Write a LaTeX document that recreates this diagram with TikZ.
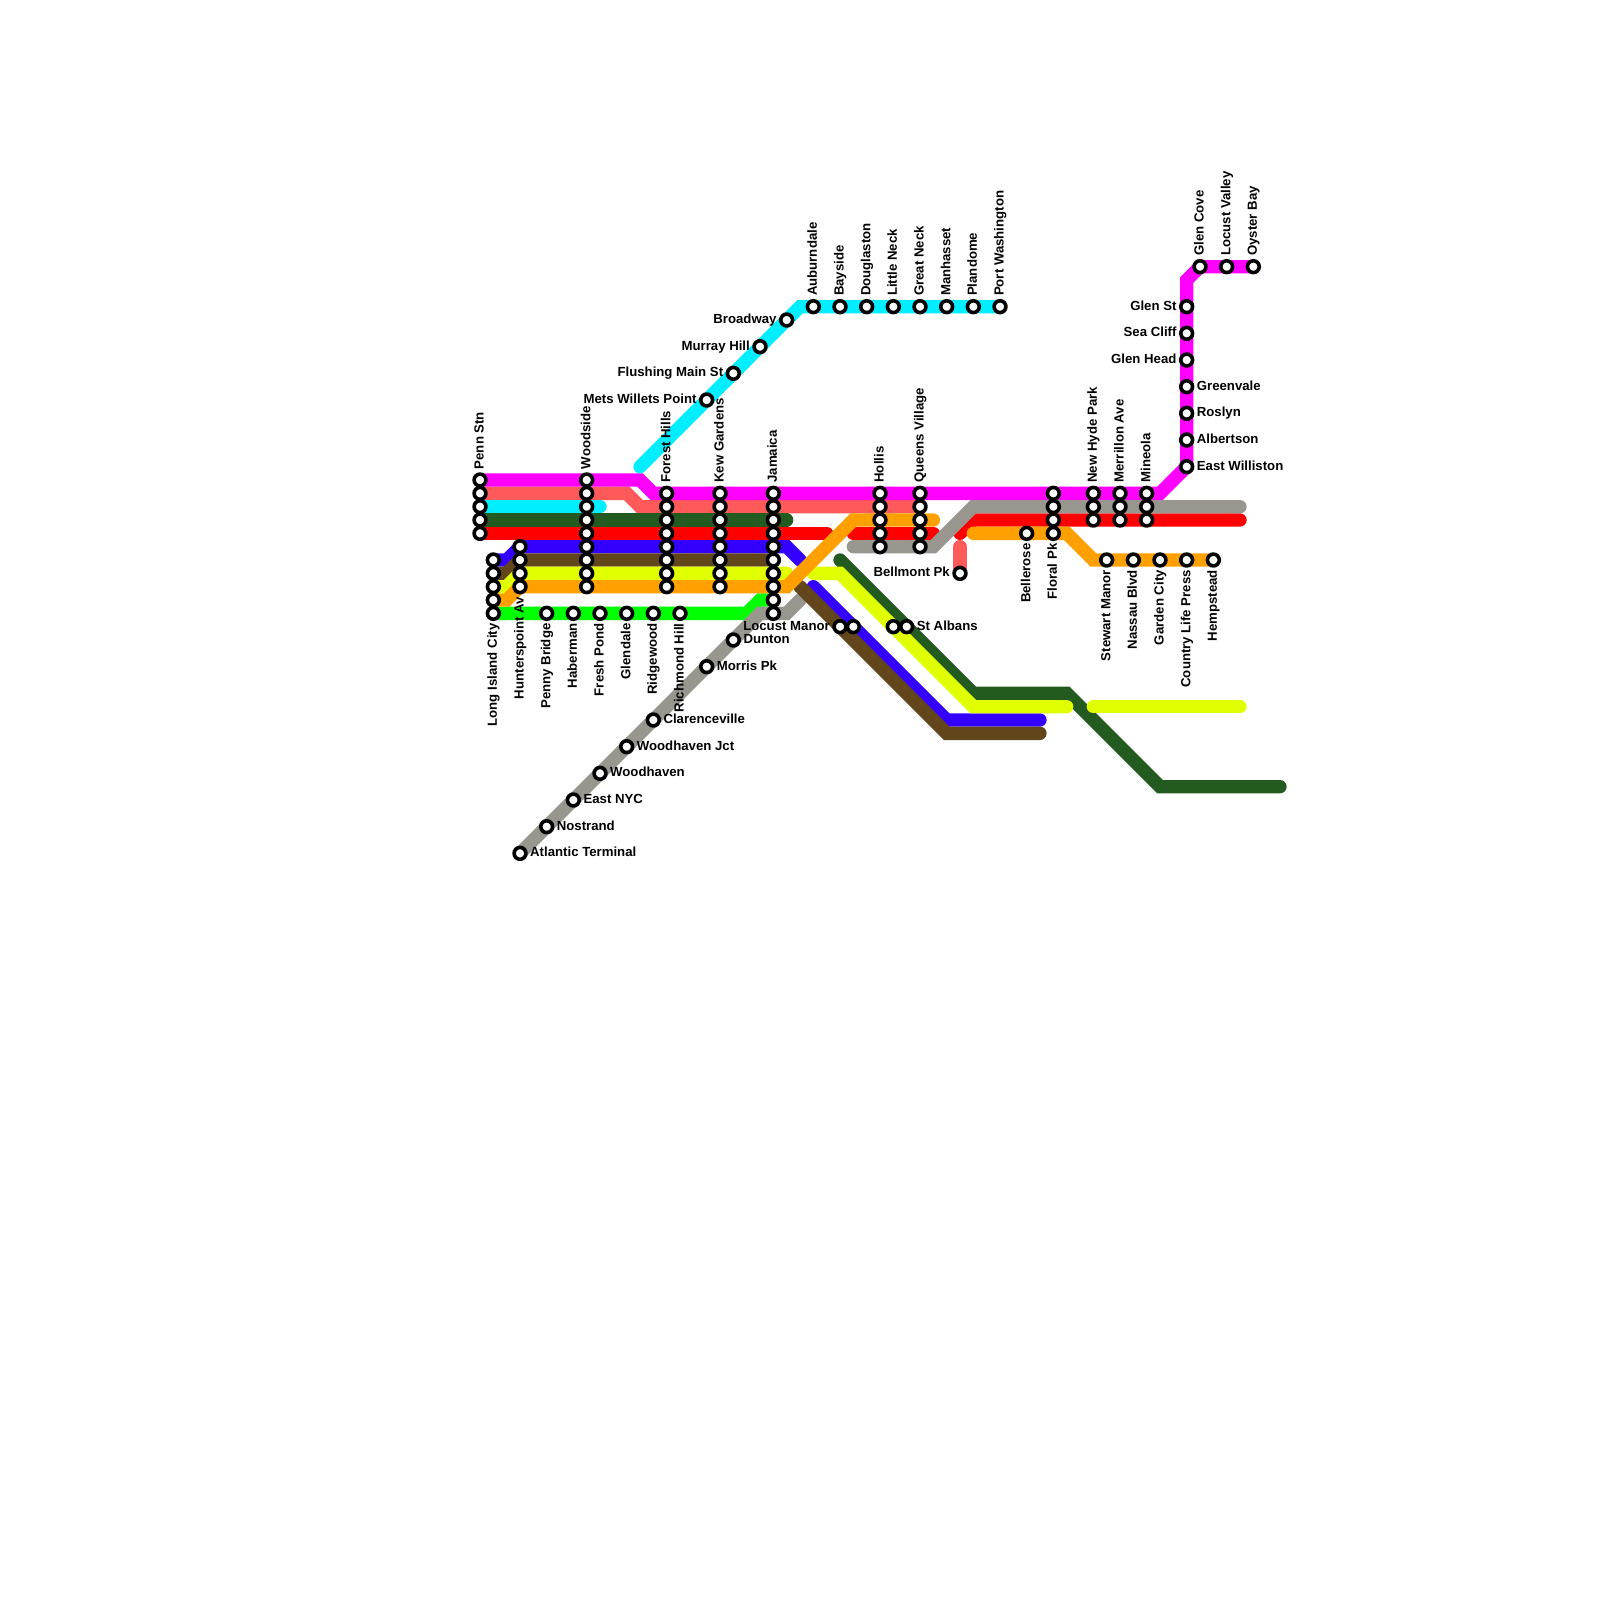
\documentclass[tikz,border=0pt]{standalone}
\usepackage{fontspec}
\setmainfont{Liberation Sans}
\definecolor{cMag}{HTML}{FF00FF}
\definecolor{cSal}{HTML}{FF5959}
\definecolor{cCya}{HTML}{00EEFF}
\definecolor{cDgr}{HTML}{225A20}
\definecolor{cRed}{HTML}{FF0000}
\definecolor{cBlu}{HTML}{3300FF}
\definecolor{cBro}{HTML}{62451B}
\definecolor{cYel}{HTML}{E0FF00}
\definecolor{cOra}{HTML}{FFA000}
\definecolor{cGra}{HTML}{999690}
\definecolor{cLim}{HTML}{00FF00}
\tikzset{
  route/.style={line width=13.33pt,line cap=round,miter limit=10,#1},
  station/.style={circle,draw=black,fill=white,line width=3.6pt,minimum size=11.8pt,inner sep=0pt},
  lab/.style={inner sep=0pt,font=\fontsize{13.2}{15}\selectfont\bfseries,text=black},
}
\newcommand\stn[3]{\node[station] (#1) at (#2,#3) {};}
\newcommand\labup[2]{\node[lab,rotate=90,anchor=base west] (t#1) at ([shift={(3.6pt,10.6pt)}]#1) {#2};}
\newcommand\labdn[2]{\node[lab,rotate=90,anchor=base east] (t#1) at ([shift={(3.6pt,-10pt)}]#1) {#2};}
\newcommand\lablf[2]{\node[lab,anchor=base east] (t#1) at ([shift={(-10pt,-3.6pt)}]#1) {#2};}
\newcommand\labrt[2]{\node[lab,anchor=base west] (t#1) at ([shift={(10pt,-3.6pt)}]#1) {#2};}
\begin{document}
\begin{tikzpicture}[x=13.3333pt,y=-13.3333pt]
\useasboundingbox (0,0) rectangle (120,120);
% waypoints
\coordinate (m0) at (36,36); \coordinate (m1) at (48,36); \coordinate (m2) at (49,37); \coordinate (m3) at (87,37);
\coordinate (m4) at (89,35); \coordinate (m5) at (89,21); \coordinate (m6) at (90,20); \coordinate (m7) at (94,20);
\coordinate (a0) at (36,37); \coordinate (a1) at (47,37); \coordinate (a2) at (48,38); \coordinate (a3) at (69,38);
\coordinate (a4) at (72,41); \coordinate (a5) at (72,43);
\coordinate (c0) at (36,38); \coordinate (c1) at (45,38);
\coordinate (c2) at (48,35); \coordinate (c3) at (60,23); \coordinate (c4) at (75,23);
\coordinate (d0) at (36,39); \coordinate (d1) at (59,39);
\coordinate (d2) at (63,42); \coordinate (d3) at (73,52); \coordinate (d4) at (80,52); \coordinate (d5) at (87,59); \coordinate (d6) at (96,59);
\coordinate (r0) at (36,40); \coordinate (r1) at (62,40);
\coordinate (r2) at (64,40); \coordinate (r3) at (70,40);
\coordinate (r4) at (72,40); \coordinate (r5) at (73,39); \coordinate (r6) at (93,39);
\coordinate (g0) at (64,41); \coordinate (g1) at (70,41); \coordinate (g2) at (73,38); \coordinate (g3) at (93,38);
\coordinate (g4) at (39,64); \coordinate (g5) at (57,46); \coordinate (g6) at (59,46); \coordinate (g7) at (60,45);
\coordinate (b0) at (37,42); \coordinate (b1) at (38,42); \coordinate (b2) at (39,41); \coordinate (b3) at (59,41); \coordinate (b4) at (60,42);
\coordinate (b5) at (61,44); \coordinate (b6) at (71,54); \coordinate (b7) at (78,54);
\coordinate (w0) at (37,43); \coordinate (w1) at (38,43); \coordinate (w2) at (39,42); \coordinate (w3) at (58,42);
\coordinate (w4) at (60,44); \coordinate (w5) at (71,55); \coordinate (w6) at (78,55);
\coordinate (y0) at (37,44); \coordinate (y1) at (38,44); \coordinate (y2) at (39,43); \coordinate (y3) at (59,43);
\coordinate (y4) at (61,43); \coordinate (y5) at (63,43); \coordinate (y6) at (73,53); \coordinate (y7) at (80,53);
\coordinate (y8) at (82,53); \coordinate (y9) at (93,53);
\coordinate (o0) at (37,45); \coordinate (o1) at (38,45); \coordinate (o2) at (39,44); \coordinate (o3) at (59,44);
\coordinate (o4) at (64,39); \coordinate (o5) at (70,39);
\coordinate (o6) at (73,40); \coordinate (o7) at (80,40); \coordinate (o8) at (82,42); \coordinate (o9) at (91,42);
\coordinate (l0) at (37,46); \coordinate (l1) at (56,46); \coordinate (l2) at (57,45); \coordinate (l3) at (58,45);
% routes
\draw[route=cSal] (a0)--(a1)--(a2)--(a3);
\draw[route=cSal] (a4)--(a5);
\draw[route=cMag] (m0)--(m1)--(m2)--(m3)--(m4)--(m5)--(m6)--(m7);
\draw[route=cCya] (c0)--(c1);
\draw[route=cCya] (c2)--(c3)--(c4);
\draw[route=cRed] (r0)--(r1);
\draw[route=cRed] (r2)--(r3);
\draw[route=cRed] (r4)--(r5)--(r6);
\draw[route=cDgr] (d0)--(d1);
\draw[route=cDgr] (d2)--(d3)--(d4)--(d5)--(d6);
\draw[route=cGra] (g0)--(g1)--(g2)--(g3);
\draw[route=cLim] (l0)--(l1)--(l2)--(l3);
\draw[route=cGra] (g4)--(g5)--(g6)--(g7);
\draw[route=cBlu] (b0)--(b1)--(b2)--(b3)--(b4);
\draw[route=cBlu] (b5)--(b6)--(b7);
\draw[route=cBro] (w0)--(w1)--(w2)--(w3);
\draw[route=cBro] (w4)--(w5)--(w6);
\draw[route=cYel] (y0)--(y1)--(y2)--(y3);
\draw[route=cYel] (y4)--(y5)--(y6)--(y7);
\draw[route=cYel] (y8)--(y9);
\draw[route=cOra] (o0)--(o1)--(o2)--(o3)--(o4)--(o5);
\draw[route=cOra] (o6)--(o7)--(o8)--(o9);
% station columns
\foreach \j in {36,...,40} {\stn{pn\j}{36}{\j}}
\foreach \j in {42,...,46} {\stn{li\j}{37}{\j}}
\foreach \j in {41,...,44} {\stn{hu\j}{39}{\j}}
\foreach \j in {36,...,44} {\stn{wo\j}{44}{\j}}
\foreach \j in {37,...,44} {\stn{fo\j}{50}{\j}}
\foreach \j in {37,...,44} {\stn{ke\j}{54}{\j}}
\foreach \j in {37,...,46} {\stn{ja\j}{58}{\j}}
\foreach \j in {37,...,41} {\stn{ho\j}{66}{\j}}
\foreach \j in {37,...,41} {\stn{qu\j}{69}{\j}}
\foreach \j in {37,...,40} {\stn{fl\j}{79}{\j}}
\foreach \j in {37,...,39} {\stn{ne\j}{82}{\j}}
\foreach \j in {37,...,39} {\stn{me\j}{84}{\j}}
\foreach \j in {37,...,39} {\stn{mi\j}{86}{\j}}
% single stations
\stn{penny}{41}{46}\stn{haber}{43}{46}\stn{fresh}{45}{46}\stn{glend}{47}{46}\stn{ridge}{49}{46}\stn{richm}{51}{46}
\stn{dunto}{55}{48}\stn{morri}{53}{50}\stn{clare}{49}{54}\stn{wjct}{47}{56}\stn{woodh}{45}{58}\stn{enyc}{43}{60}\stn{nostr}{41}{62}\stn{atlan}{39}{64}
\stn{broad}{59}{24}\stn{murra}{57}{26}\stn{flush}{55}{28}\stn{metsw}{53}{30}
\stn{aubur}{61}{23}\stn{baysi}{63}{23}\stn{dougl}{65}{23}\stn{littl}{67}{23}\stn{great}{69}{23}\stn{manha}{71}{23}\stn{pland}{73}{23}\stn{portw}{75}{23}
\stn{locma}{63}{47}\stn{locmb}{64}{47}\stn{stala}{67}{47}\stn{stalb}{68}{47}
\stn{bellm}{72}{43}\stn{bellr}{77}{40}
\stn{stewa}{83}{42}\stn{nassa}{85}{42}\stn{garde}{87}{42}\stn{count}{89}{42}\stn{hemps}{91}{42}
\stn{ewill}{89}{35}\stn{alber}{89}{33}\stn{rosly}{89}{31}\stn{green}{89}{29}\stn{ghead}{89}{27}\stn{seacl}{89}{25}\stn{glens}{89}{23}
\stn{gcove}{90}{20}\stn{lvall}{92}{20}\stn{oyste}{94}{20}
% labels
\labup{pn36}{Penn Stn}\labup{wo36}{Woodside}\labup{fo37}{Forest Hills}\labup{ke37}{Kew Gardens}\labup{ja37}{Jamaica}
\labup{ho37}{Hollis}\labup{qu37}{Queens Village}\labup{ne37}{New Hyde Park}\labup{me37}{Merrillon Ave}\labup{mi37}{Mineola}
\labup{aubur}{Auburndale}\labup{baysi}{Bayside}\labup{dougl}{Douglaston}\labup{littl}{Little Neck}\labup{great}{Great Neck}
\labup{manha}{Manhasset}\labup{pland}{Plandome}\labup{portw}{Port Washington}
\labup{gcove}{Glen Cove}\labup{lvall}{Locust Valley}\labup{oyste}{Oyster Bay}
\labdn{li46}{Long Island City}\labdn{hu44}{Hunterspoint Av}\labdn{penny}{Penny Bridge}\labdn{haber}{Haberman}\labdn{fresh}{Fresh Pond}
\labdn{glend}{Glendale}\labdn{ridge}{Ridgewood}\labdn{richm}{Richmond Hill}\labdn{bellr}{Bellerose}\labdn{fl40}{Floral Pk}
\labdn{stewa}{Stewart Manor}\labdn{nassa}{Nassau Blvd}\labdn{garde}{Garden City}\labdn{count}{Country Life Press}\labdn{hemps}{Hempstead}
\lablf{broad}{Broadway}\lablf{murra}{Murray Hill}\lablf{flush}{Flushing Main St}\lablf{metsw}{Mets Willets Point}
\lablf{glens}{Glen St}\lablf{seacl}{Sea Cliff}\lablf{ghead}{Glen Head}\lablf{bellm}{Bellmont Pk}\lablf{locma}{Locust Manor}
\labrt{green}{Greenvale}\labrt{rosly}{Roslyn}\labrt{alber}{Albertson}\labrt{ewill}{East Williston}\labrt{stalb}{St Albans}
\labrt{dunto}{Dunton}\labrt{morri}{Morris Pk}\labrt{clare}{Clarenceville}\labrt{wjct}{Woodhaven Jct}\labrt{woodh}{Woodhaven}
\labrt{enyc}{East NYC}\labrt{nostr}{Nostrand}\labrt{atlan}{Atlantic Terminal}
\end{tikzpicture}
\end{document}
